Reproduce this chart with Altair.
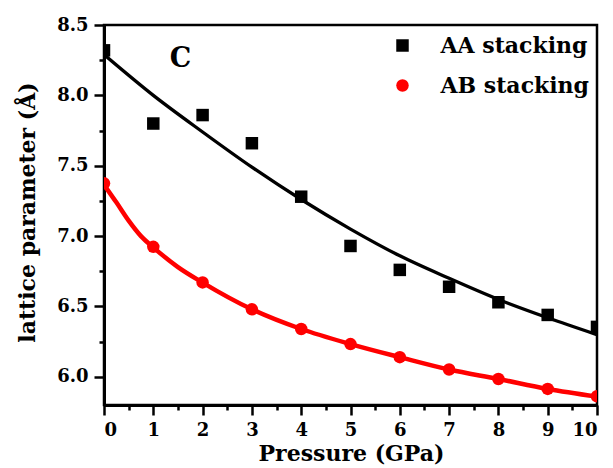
import altair as alt
import pandas as pd

# ---- data ----
pressure = [0, 1, 2, 3, 4, 5, 6, 7, 8, 9, 10]
aa_lattice = [8.32, 7.80, 7.86, 7.66, 7.28, 6.93, 6.76, 6.64, 6.53, 6.44, 6.355]
ab_lattice = [7.375, 6.924, 6.671, 6.48, 6.34, 6.233, 6.14, 6.052, 5.985, 5.914, 5.862]

fit_aa_p = [0, 1, 2, 3, 4, 5, 6, 7, 8, 9, 10]
fit_aa_y = [8.29, 8.00, 7.74, 7.49, 7.26, 7.05, 6.86, 6.70, 6.55, 6.42, 6.30]

fit_ab_p = [0, 0.25, 0.5, 0.75, 1, 1.5, 2, 3, 4, 5, 6, 7, 8, 9, 10]
fit_ab_y = [7.365, 7.24, 7.11, 7.00, 6.92, 6.78, 6.67, 6.48, 6.34, 6.233, 6.14, 6.052, 5.985, 5.914, 5.86]

series_names = ["AA stacking", "AB stacking"]
series_colors = ["black", "red"]
series_shapes = ["square", "circle"]

x_major = [0, 1, 2, 3, 4, 5, 6, 7, 8, 9, 10]
x_minor = [0.5, 1.5, 2.5, 3.5, 4.5, 5.5, 6.5, 7.5, 8.5, 9.5]
y_major = [6.0, 6.5, 7.0, 7.5, 8.0, 8.5]
y_minor = [6.25, 6.75, 7.25, 7.75, 8.25]

FONT = "DejaVu Serif"

points = pd.DataFrame({
    "pressure": pressure * 2,
    "lattice": aa_lattice + ab_lattice,
    "series": [series_names[0]] * len(pressure) + [series_names[1]] * len(pressure),
})
fit_aa = pd.DataFrame({"pressure": fit_aa_p, "lattice": fit_aa_y})
fit_ab = pd.DataFrame({"pressure": fit_ab_p, "lattice": fit_ab_y})

x_scale = alt.Scale(domain=[0, 10], nice=False)
y_scale = alt.Scale(domain=[5.8, 8.5], nice=False, zero=False)

major_x_axis = alt.Axis(
    orient="bottom", values=x_major, format="d", grid=False,
    domainColor="black", domainWidth=3, tickColor="black", tickWidth=2.5, tickSize=10,
    labelFont=FONT, labelFontWeight="bold", labelFontSize=18, labelColor="black", labelPadding=6,
    title="Pressure (GPa)", titleFont=FONT, titleFontWeight="bold", titleFontSize=22,
    titleColor="black", titleX=247, titleY=55, titleBaseline="alphabetic", titleAlign="center",
)
major_y_axis = alt.Axis(
    orient="left", values=y_major, format=".1f", grid=False,
    domainColor="black", domainWidth=3, tickColor="black", tickWidth=2.5, tickSize=10,
    labelFont=FONT, labelFontWeight="bold", labelFontSize=18, labelColor="black", labelPadding=6,
    title="lattice parameter (Å)", titleFont=FONT, titleFontWeight="bold", titleFontSize=22,
    titleColor="black", titleX=-70, titleY=187, titleAngle=270, titleBaseline="alphabetic",
    titleAlign="center",
)
minor_x_axis = alt.Axis(
    orient="bottom", values=x_minor, labels=False, domain=False, grid=False,
    tickColor="black", tickWidth=2.5, tickSize=5, title=None,
)
minor_y_axis = alt.Axis(
    orient="left", values=y_minor, labels=False, domain=False, grid=False,
    tickColor="black", tickWidth=2.5, tickSize=5, title=None,
)

line_aa = alt.Chart(fit_aa).mark_line(color="black", strokeWidth=3.3, interpolate="monotone", clip=True).encode(
    x=alt.X("pressure:Q", scale=x_scale, axis=minor_x_axis),
    y=alt.Y("lattice:Q", scale=y_scale, axis=minor_y_axis),
)
line_ab = alt.Chart(fit_ab).mark_line(color="red", strokeWidth=4.5, interpolate="monotone", clip=True).encode(
    x=alt.X("pressure:Q", scale=x_scale, axis=None),
    y=alt.Y("lattice:Q", scale=y_scale, axis=None),
)
pts = alt.Chart(points).mark_point(filled=True, opacity=1, size=156, clip=True).encode(
    x=alt.X("pressure:Q", scale=x_scale, axis=major_x_axis),
    y=alt.Y("lattice:Q", scale=y_scale, axis=major_y_axis),
    color=alt.Color("series:N", scale=alt.Scale(domain=series_names, range=series_colors),
                    legend=alt.Legend(
                        title=None, orient="none", legendX=287.5, legendY=9.5, padding=0,
                        symbolSize=156, symbolStrokeWidth=0, labelFont=FONT, labelFontWeight="bold",
                        labelFontSize=22, labelColor="black", labelOffset=27, rowPadding=18,
                    )),
    shape=alt.Shape("series:N", scale=alt.Scale(domain=series_names, range=series_shapes)),
)
label_c = alt.Chart(pd.DataFrame({"t": ["C"]})).mark_text(
    font=FONT, fontWeight="bold", fontSize=27, color="black", align="center", baseline="alphabetic"
).encode(
    x=alt.XDatum(1.55, scale=x_scale, axis=None),
    y=alt.YDatum(8.2, scale=y_scale, axis=None),
    text="t:N",
)

chart = alt.layer(line_aa, line_ab, pts, label_c).resolve_axis(
    x="independent", y="independent"
).properties(
    width=493, height=380,
    autosize=alt.AutoSizeParams(type="none"),
    padding={"left": 96, "top": 17, "right": 8, "bottom": 60},
    background="white",
).configure_view(stroke="black", strokeWidth=2.5)

chart.save("out.html", embed_options={"renderer": "svg", "actions": False})
